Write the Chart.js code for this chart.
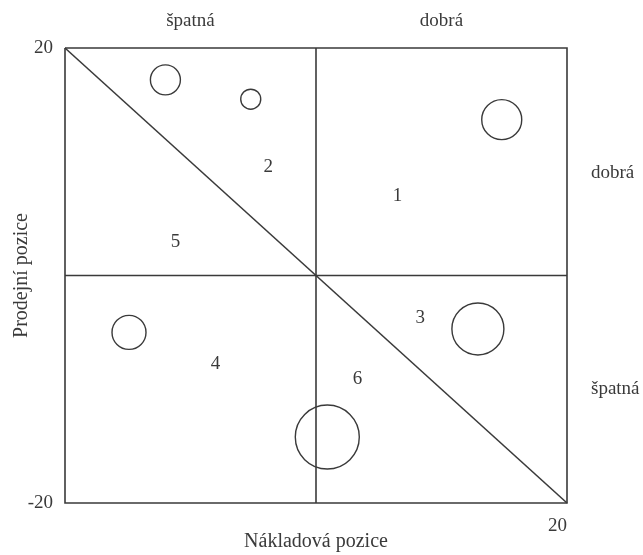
<!DOCTYPE html>
<html>
<head>
<meta charset="utf-8">
<script src="https://cdn.jsdelivr.net/npm/chart.js@4/dist/chart.umd.min.js"></script>
<style>
html,body{margin:0;padding:0;background:#fff;}
#wrap{width:643px;height:555px;}
</style>
</head>
<body>
<div id="wrap"><canvas id="c" width="643" height="555"></canvas></div>
<script>
// ---- data ----
const axisMin = -20;
const axisMax = 20;
const topCategories = ["špatná", "dobrá"];
const topCategoryPos = [-10, 10];
const rightCategories = ["dobrá", "špatná"];
const rightCategoryPos = [9, -10];
const yTickValues = [-20, 20];
const xTickValues = [20];
const xTitle = "Nákladová pozice";
const yTitle = "Prodejní pozice";

const circleX = [-12, -5.2, 14.8, -14.9, 12.9, 0.9];
const circleY = [17.2, 15.5, 13.7, -5.0, -4.7, -14.2];
const circleR = [15, 10, 20, 17, 26, 32];

const regionLabels = ["1", "2", "3", "4", "5", "6"];
const regionX = [6.5, -3.8, 8.3, -8.0, -11.2, 3.3];
const regionY = [7.0, 9.5, -3.7, -7.8, 2.9, -9.1];

const frameX = [-20, 20, 20, -20, -20];
const frameY = [20, 20, -20, -20, 20];
const crossHX = [-20, 20];
const crossHY = [0, 0];
const crossVX = [0, 0];
const crossVY = [-20, 20];
const diagX = [-20, 20];
const diagY = [20, -20];

// ---- build ----
const zip = (xs, ys) => xs.map((x, i) => ({x: x, y: ys[i]}));
const ink = "#3a3a3a";
const fontFam = "'Liberation Serif', 'Times New Roman', serif";

const lineDs = (xs, ys) => ({
  type: 'line', data: zip(xs, ys), borderColor: ink, borderWidth: 1.6,
  pointRadius: 0, fill: false, tension: 0, showLine: true, order: 2
});

const textPlugin = {
  id: 'regionText',
  afterDatasetsDraw(chart) {
    const {ctx, scales} = chart;
    ctx.save();
    ctx.fillStyle = ink;
    ctx.font = "19px " + fontFam;
    ctx.textAlign = 'center';
    ctx.textBaseline = 'middle';
    regionLabels.forEach((t, i) => {
      ctx.fillText(t, scales.x.getPixelForValue(regionX[i]), scales.y.getPixelForValue(regionY[i]));
    });
    ctx.restore();
  }
};

new Chart(document.getElementById('c'), {
  type: 'scatter',
  data: {
    datasets: [
      lineDs(frameX, frameY),
      lineDs(crossHX, crossHY),
      lineDs(crossVX, crossVY),
      lineDs(diagX, diagY),
      {
        type: 'bubble',
        data: circleX.map((x, i) => ({x: x, y: circleY[i], r: circleR[i]})),
        backgroundColor: 'rgba(0,0,0,0)',
        borderColor: ink, borderWidth: 1.4, hoverRadius: 0, order: 1
      }
    ]
  },
  options: {
    responsive: false,
    animation: false,
    events: [],
    layout: {padding: 0},
    plugins: {legend: {display: false}, tooltip: {enabled: false}},
    clip: false,
    scales: {
      x: {
        type: 'linear', position: 'bottom', min: axisMin, max: axisMax,
        grid: {display: false, drawTicks: false}, border: {display: false},
        afterBuildTicks: s => { s.ticks = xTickValues.map(v => ({value: v})); },
        afterFit: s => { s.height = 52; },
        ticks: {color: ink, font: {family: fontFam, size: 19}, padding: 12, align: 'end'},
        title: {display: true, text: xTitle, color: ink, font: {family: fontFam, size: 20}, padding: {top: 0, bottom: 1}}
      },
      x2: {
        type: 'linear', position: 'top', min: axisMin, max: axisMax,
        grid: {display: false, drawTicks: false}, border: {display: false},
        afterBuildTicks: s => { s.ticks = topCategoryPos.map(v => ({value: v})); },
        afterFit: s => { s.height = 48; },
        ticks: {color: ink, font: {family: fontFam, size: 19}, padding: 16,
          callback: (v) => topCategories[topCategoryPos.indexOf(v)]}
      },
      y: {
        type: 'linear', position: 'left', min: axisMin, max: axisMax,
        grid: {display: false, drawTicks: false}, border: {display: false},
        afterBuildTicks: s => { s.ticks = yTickValues.map(v => ({value: v})); },
        afterFit: s => { s.width = 65; },
        ticks: {color: ink, font: {family: fontFam, size: 19}, padding: 12},
        title: {display: true, text: yTitle, color: ink, font: {family: fontFam, size: 20}, padding: {top: 10, bottom: 0}}
      },
      y2: {
        type: 'linear', position: 'right', min: axisMin, max: axisMax,
        grid: {display: false, drawTicks: false}, border: {display: false},
        afterBuildTicks: s => { s.ticks = rightCategoryPos.map(v => ({value: v})); },
        afterFit: s => { s.width = 76; },
        ticks: {color: ink, font: {family: fontFam, size: 19}, padding: 24,
          callback: (v) => rightCategories[rightCategoryPos.indexOf(v)]}
      }
    }
  },
  plugins: [textPlugin]
});
</script>
</body>
</html>
